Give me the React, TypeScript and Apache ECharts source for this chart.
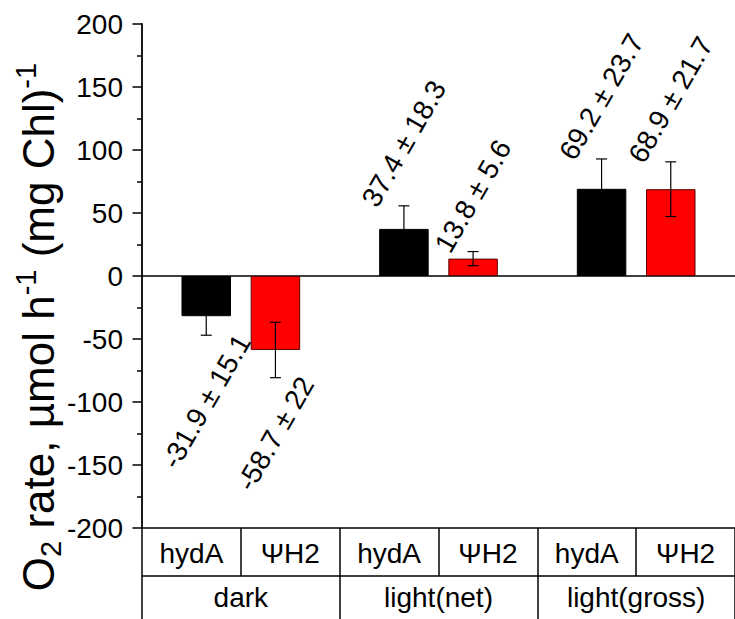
import { useEffect, useRef } from "react";
import * as echarts from "echarts";

// Groups of measurements and the two strains inside each group
const groups = ["dark", "light(net)", "light(gross)"];
const strains = ["hydA", "ΨH2"];
const strainColors = ["#000000", "#ff0000"];
const strainBorders = ["#000000", "#5a0000"];

// Mean O2 rates and their standard deviations, one entry per group
const hydAMeans = [-31.9, 37.4, 69.2];
const hydAErrors = [15.1, 18.3, 23.7];
const psiMeans = [-58.7, 13.8, 68.9];
const psiErrors = [22, 5.6, 21.7];

// Y axis range and tick step
const yMin = -200;
const yMax = 200;
const yStep = 50;

const FONT = '"Liberation Sans", Arial, sans-serif';
const LABEL_SIZE = 28;
const LABEL_ANGLE = Math.PI / 3;
const BAR_OFFSET = 0.175; // half distance between the two bars of a group, in group units

let measureCtx: CanvasRenderingContext2D | null = null;
function textWidth(text: string, size: number): number {
  if (!measureCtx) {
    measureCtx = document.createElement("canvas").getContext("2d");
  }
  if (!measureCtx) return text.length * size * 0.55;
  measureCtx.font = `${size}px ${FONT}`;
  return measureCtx.measureText(text).width;
}

function barPoints(means: number[], strainIndex: number) {
  const shift = strainIndex === 0 ? -BAR_OFFSET : BAR_OFFSET;
  return means.map((m, g) => [g + 0.5 + shift, m]);
}

function errorPoints(means: number[], errors: number[], strainIndex: number) {
  const shift = strainIndex === 0 ? -BAR_OFFSET : BAR_OFFSET;
  return means.map((m, g) => [g + 0.5 + shift, m, errors[g]]);
}

function renderError(_params: any, api: any) {
  const x = api.value(0);
  const v = api.value(1);
  const e = api.value(2);
  const hi = api.coord([x, v + e]);
  const lo = api.coord([x, v - e]);
  const cx = hi[0];
  const cap = 5.5;
  const lineStyle = { stroke: "#000000", lineWidth: 1.2 };
  const text = `${v} ± ${e}`;
  const L = textWidth(text, LABEL_SIZE);
  const inkH = LABEL_SIZE * 0.72;
  const half = (L * Math.sin(LABEL_ANGLE) + inkH * Math.cos(LABEL_ANGLE)) / 2;
  const cy = v >= 0 ? hi[1] - (half - 3.5) : lo[1] + (half - 3.5);
  return {
    type: "group",
    children: [
      { type: "line", shape: { x1: cx, y1: hi[1], x2: cx, y2: lo[1] }, style: lineStyle },
      { type: "line", shape: { x1: cx - cap, y1: hi[1], x2: cx + cap, y2: hi[1] }, style: lineStyle },
      { type: "line", shape: { x1: cx - cap, y1: lo[1], x2: cx + cap, y2: lo[1] }, style: lineStyle },
      {
        type: "text",
        x: cx,
        y: cy,
        rotation: LABEL_ANGLE,
        style: {
          text,
          fill: "#000",
          fontSize: LABEL_SIZE,
          fontFamily: FONT,
          align: "center",
          verticalAlign: "middle",
        },
      },
    ],
  };
}

export default function App() {
  const ref = useRef<HTMLDivElement>(null);

  useEffect(() => {
    document.body.style.margin = "0";
    if (!ref.current) return;
    const chart = echarts.init(ref.current, undefined, { renderer: "svg" });

    const barSeries = [hydAMeans, psiMeans].map((means, i) => ({
      type: "bar",
      name: strains[i],
      xAxisIndex: 0,
      yAxisIndex: 0,
      data: barPoints(means, i),
      barWidth: 49.5,
      barGap: "-100%",
      itemStyle: { color: strainColors[i], borderColor: strainBorders[i], borderWidth: 1 },
      z: 2,
    }));

    const errorSeries = [
      [hydAMeans, hydAErrors],
      [psiMeans, psiErrors],
    ].map(([means, errors], i) => ({
      type: "custom",
      xAxisIndex: 0,
      yAxisIndex: 0,
      data: errorPoints(means, errors, i),
      renderItem: renderError,
      clip: false,
      z: 5,
    }));

    const option: any = {
      animation: false,
      backgroundColor: "#ffffff",
      grid: { left: 142, top: 24, width: 597, height: 504, containLabel: false },
      xAxis: [
        {
          type: "value",
          min: 0,
          max: groups.length,
          position: "bottom",
          axisLine: { show: true, onZero: true, lineStyle: { color: "#000", width: 1.5 } },
          axisTick: { show: false },
          axisLabel: { show: false },
          splitLine: { show: false },
        },
        {
          type: "category",
          position: "bottom",
          data: groups.flatMap(() => strains),
          boundaryGap: true,
          axisLine: { show: true, onZero: false, lineStyle: { color: "#000", width: 1.5 } },
          axisTick: { show: true, interval: 0, length: 48, lineStyle: { color: "#000", width: 1.5 } },
          axisLabel: { interval: 0, margin: 11, fontSize: 28, fontFamily: FONT, color: "#000" },
          splitLine: { show: false },
        },
        {
          type: "category",
          position: "bottom",
          offset: 48,
          data: groups,
          boundaryGap: true,
          axisLine: { show: true, onZero: false, lineStyle: { color: "#000", width: 1.5 } },
          axisTick: { show: true, interval: 0, length: 70, lineStyle: { color: "#000", width: 1.5 } },
          axisLabel: { interval: 0, margin: 7, fontSize: 28, fontFamily: FONT, color: "#000" },
          splitLine: { show: false },
        },
      ],
      yAxis: {
        type: "value",
        min: yMin,
        max: yMax,
        interval: yStep,
        axisLine: { show: true, onZero: false, lineStyle: { color: "#000", width: 1.8 } },
        axisTick: { show: true, inside: false, length: 9.5, lineStyle: { color: "#000", width: 1.5 } },
        minorTick: { show: true, splitNumber: 2, length: 5, lineStyle: { color: "#000", width: 1.5 } },
        axisLabel: { margin: 19, fontSize: 28, fontFamily: FONT, color: "#000" },
        splitLine: { show: false },
      },
      graphic: [
        {
          type: "text",
          x: 38,
          y: 327,
          rotation: Math.PI / 2,
          style: {
            text: "O{sub|2} rate, µmol h{sup|-1} (mg Chl){sup|-1}",
            fontSize: 44,
            fontFamily: FONT,
            fill: "#000",
            align: "center",
            verticalAlign: "middle",
            lineHeight: 54,
            rich: {
              sub: { fontSize: 29, fontFamily: FONT, verticalAlign: "bottom", lineHeight: 54, fill: "#000" },
              sup: { fontSize: 29, fontFamily: FONT, verticalAlign: "top", lineHeight: 54, fill: "#000" },
            },
          },
        },
      ],
      series: [...barSeries, ...errorSeries],
    };

    chart.setOption(option);
    return () => chart.dispose();
  }, []);

  return <div ref={ref} style={{ width: 735, height: 619 }} />;
}
